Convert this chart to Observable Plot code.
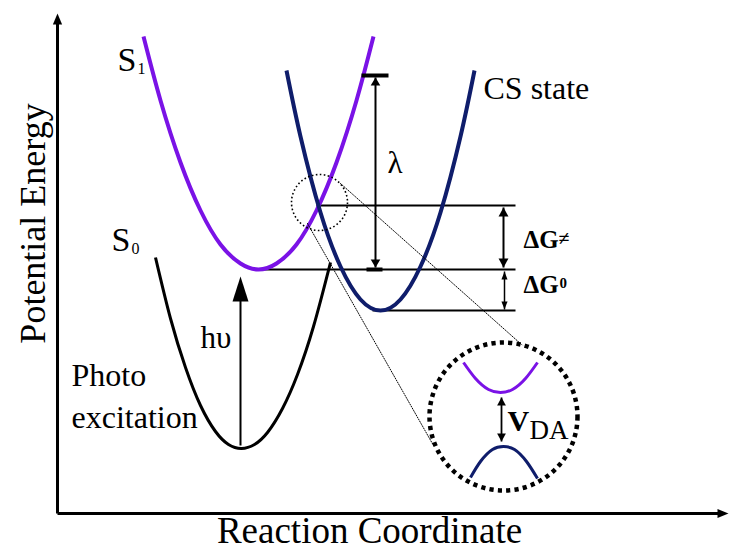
<!DOCTYPE html>
<html>
<head>
<meta charset="utf-8">
<script src="https://cdn.jsdelivr.net/npm/d3@7"></script>
<script src="https://cdn.jsdelivr.net/npm/@observablehq/plot@0.6"></script>
<style>
  body { margin: 0; background: #fff; }
  svg { display: block; }
</style>
</head>
<body>
<div id="chart"></div>
<script>
// Marcus picture of photoinduced charge separation.
// q = reaction coordinate, e = potential energy (arbitrary units, origin at the axes' corner)

// Ground state S0
const s0Q = [97, 112, 127, 142, 157, 170, 183, 196, 209, 224, 239, 255, 272];
const s0E = [256, 195, 146, 108, 82, 69, 65, 69, 81, 105, 139, 187, 251];
// Excited state S1
const s1Q = [85, 102, 122, 142, 162, 182, 200, 218, 238, 258, 278, 298, 315];
const s1E = [477, 413, 351, 303, 269, 250, 244, 250, 269, 303, 351, 413, 477];
// Charge-separated state
const csQ = [228, 242, 262, 282, 302, 322, 342, 362, 382, 402, 416];
const csE = [443, 377, 301, 247, 214, 203, 214, 247, 301, 377, 443];

// Key energies
const eS1Min = 244;     // bottom of S1
const eCross = 308;     // S1 / CS crossing point
const eCSMin = 203;     // bottom of CS state
const eLambdaTop = 438; // top of the reorganization-energy bar
const qCross = 261;

// Horizontal energy levels: start on the reaction coordinate, shared right end
const levelStartQ = [197, 258, 314];
const levelE = [eS1Min, eCross, eCSMin];
const levelEndQ = 457;

// Magnified view of the avoided crossing
const lensQ = 445, lensE = 97;
const zoomUpperQ = [405, 417, 430, 442, 454, 467, 479];
const zoomUpperE = [151, 135, 124, 121, 124, 135, 151];
const zoomLowerQ = [412, 422, 434, 445, 456, 468, 479];
const zoomLowerE = [36, 52, 64, 67, 64, 52, 35];
const coupling = {q: 443, top: 118, bottom: 70};
// Guide lines from the crossing to the magnified view
const guide1Q = [282, 472], guide1E = [330, 161];
const guide2Q = [249, 375], guide2E = [290, 68];

// Photoexcitation from the S0 minimum
const photon = {q: 182, from: 68, to: 237};
// Reorganization energy and free energies
const lambdaQ = 317;
const dGactQ = 445, dG0Q = 446;

const serif = '"Liberation Serif", "Times New Roman", serif';
const purple = "#7a12e6", navy = "#0f1d6b";

const pts = (qs, es) => qs.map((q, i) => ({q, e: es[i]}));

// Filled arrowhead symbol with its tip at the anchor point
function head(dir, k) {
  return {
    draw(ctx, size) {
      const L = Math.sqrt(size / Math.PI), w = L * k;
      if (dir === "up") { ctx.moveTo(0, 0); ctx.lineTo(w, L); ctx.lineTo(-w, L); }
      else if (dir === "down") { ctx.moveTo(0, 0); ctx.lineTo(w, -L); ctx.lineTo(-w, -L); }
      else { ctx.moveTo(0, 0); ctx.lineTo(-L, w); ctx.lineTo(-L, -w); }
      ctx.closePath();
    }
  };
}
const tip = (q, e, dir, k, r) =>
  Plot.dot([{q, e}], {x: "q", y: "e", symbol: head(dir, k), r, fill: "black", stroke: "none"});
const seg = (q1, e1, q2, e2, w, extra = {}) =>
  Plot.link([{q1, e1, q2, e2}], {x1: "q1", y1: "e1", x2: "q2", y2: "e2", stroke: "black", strokeWidth: w, ...extra});
const label = (q, e, text, size, extra = {}) =>
  Plot.text([{q, e, text}], {x: "q", y: "e", text: "text", fontSize: size, fontFamily: serif,
    textAnchor: "start", lineAnchor: "bottom", fill: "black", ...extra});

const curve = (data, color, w) =>
  Plot.line(data, {x: "q", y: "e", curve: "natural", stroke: color, strokeWidth: w, strokeLinecap: "butt"});

const plot = Plot.plot({
  width: 731,
  height: 550,
  margin: 0,
  x: {domain: [-58, 673], axis: null},
  y: {domain: [-37, 513], axis: null},
  style: {background: "white", fontFamily: serif},
  marks: [
    // axes
    seg(-1, 0, -1, 496, 3),
    seg(-1, 0, 666, 0, 3),
    tip(-1, 500, "up", 0.42, 11),
    tip(670, 0, "right", 0.42, 11),

    // energy levels
    Plot.link(levelE.map((e, i) => ({q1: levelStartQ[i], q2: levelEndQ, e})),
      {x1: "q1", x2: "q2", y1: "e", y2: "e", stroke: "black", strokeWidth: 2}),

    // potential energy surfaces
    curve(pts(s0Q, s0E), "black", 3),
    curve(pts(s1Q, s1E), purple, 4),
    curve(pts(csQ, csE), navy, 4),

    // photoexcitation
    seg(photon.q, photon.from, photon.q, photon.to - 20, 2),
    tip(photon.q, photon.to, "up", 0.32, 25),

    // reorganization energy
    seg(lambdaQ - 14, eLambdaTop, lambdaQ + 13, eLambdaTop, 4),
    seg(lambdaQ - 9, eS1Min, lambdaQ + 7, eS1Min, 4),
    seg(lambdaQ, eS1Min + 2, lambdaQ, eLambdaTop - 2, 2),
    tip(lambdaQ, eLambdaTop - 2, "up", 0.6, 8),
    tip(lambdaQ, eS1Min + 2, "down", 0.6, 8),

    // activation free energy and driving force
    seg(dGactQ, eS1Min + 2, dGactQ, eCross - 2, 2),
    tip(dGactQ, eCross - 2, "up", 0.55, 9),
    tip(dGactQ, eS1Min + 2, "down", 0.55, 9),
    seg(dG0Q, eCSMin + 1, dG0Q, eS1Min - 2, 1.5),
    tip(dG0Q, eS1Min - 2, "up", 0.38, 8),
    tip(dG0Q, eCSMin + 1, "down", 0.38, 8),

    // magnifier
    Plot.dot([{q: qCross, e: eCross + 3}], {x: "q", y: "e", r: 28, fill: "none", stroke: "black",
      strokeWidth: 1.6, strokeDasharray: "1.6 2.4"}),
    Plot.line(pts(guide1Q, guide1E), {x: "q", y: "e", stroke: "black", strokeWidth: 1, strokeDasharray: "1 1.5"}),
    Plot.line(pts(guide2Q, guide2E), {x: "q", y: "e", stroke: "black", strokeWidth: 1, strokeDasharray: "1 1.5"}),
    Plot.dot([{q: lensQ, e: lensE}], {x: "q", y: "e", r: 74, fill: "white", stroke: "black",
      strokeWidth: 4.5, strokeDasharray: "4.2 4.2"}),
    curve(pts(zoomUpperQ, zoomUpperE), purple, 3),
    curve(pts(zoomLowerQ, zoomLowerE), navy, 3),
    seg(coupling.q, coupling.bottom + 2, coupling.q, coupling.top - 2, 1.8),
    tip(coupling.q, coupling.top - 2, "up", 0.55, 8),
    tip(coupling.q, coupling.bottom + 2, "down", 0.55, 8),

    // labels
    label(59, 443, "S", 34),
    label(79, 440, "1", 16),
    label(53, 263, "S", 34),
    label(73, 260, "0", 16),
    label(425, 415, "CS state", 32),
    label(329, 341, "λ", 31),
    label(142, 166, "hυ", 31),
    label(13, 128, "Photo", 32),
    label(13, 86, "excitation", 32),
    label(465, 266, "ΔG", 25, {fontWeight: "bold"}),
    label(500, 269, "≠", 20, {fontWeight: "bold"}),
    label(465, 221, "ΔG", 25, {fontWeight: "bold"}),
    label(501, 226, "0", 15, {fontWeight: "bold"}),
    label(449, 83, "V", 30, {fontWeight: "bold"}),
    label(471, 75, "DA", 27),
    label(311, -29, "Reaction Coordinate", 37, {textAnchor: "middle"}),
    label(-14, 290, "Potential Energy", 36, {textAnchor: "middle", rotate: -90})
  ]
});

document.getElementById("chart").append(plot);
</script>
</body>
</html>
